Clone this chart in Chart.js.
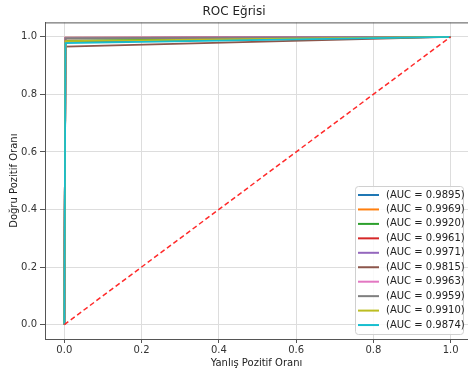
<!DOCTYPE html>
<html lang="tr">
<head>
    <meta charset="UTF-8">
    <title>ROC Eğrisi</title>
    <style>
        body { margin: 0; background: #fff; }
        canvas { display: block; }
    </style>
    <script src="https://cdn.jsdelivr.net/npm/chart.js"></script>
</head>
<body>
    <canvas id="rocChart" width="468" height="374"></canvas>
    <script>
        // her sınıf için ROC noktaları (0,0) -> (fpr, tpr) -> (1,1)
        const aucValues = [0.9895, 0.9969, 0.9920, 0.9961, 0.9971, 0.9815, 0.9963, 0.9959, 0.9910, 0.9874];
        const fprValues = [0.003, 0.003, 0.003, 0.003, 0.003, 0.003, 0.003, 0.003, 0.003, 0.003];
        const tprValues = [0.982, 0.997, 0.987, 0.995, 0.997, 0.966, 0.996, 0.995, 0.985, 0.978];
        const colors = ['#1f77b4', '#ff7f0e', '#2ca02c', '#d62728', '#9467bd',
                        '#8c564b', '#e377c2', '#7f7f7f', '#bcbd22', '#17becf'];
        const diagonalX = [0, 1];
        const diagonalY = [0, 1];
        const xTicks = [0.0, 0.2, 0.4, 0.6, 0.8, 1.0];
        const yTicks = [0.0, 0.2, 0.4, 0.6, 0.8, 1.0];

        // sonraki sınıflar üstte çizilsin (matplotlib sırası)
        const datasets = aucValues.map((auc, i) => ({
            label: '(AUC = ' + auc.toFixed(4) + ')',
            data: [{x: 0, y: 0}, {x: fprValues[i], y: tprValues[i]}, {x: 1, y: 1}],
            borderColor: colors[i],
            backgroundColor: colors[i],
            borderWidth: 1.8,
            showLine: true,
            pointRadius: 0,
            tension: 0,
            order: aucValues.length - i
        }));
        datasets.push({
            label: '',
            data: diagonalX.map((x, i) => ({x: x, y: diagonalY[i]})),
            borderColor: '#ff2a2a',
            borderWidth: 1.5,
            borderDash: [5, 3],
            showLine: true,
            pointRadius: 0,
            order: 0,
            legendHidden: true
        });

        // üst çerçeve çizgisi + grafik içindeki lejant
        const extras = {
            id: 'extras',
            afterDraw(chart) {
                const ctx = chart.ctx;
                const area = chart.chartArea;
                ctx.save();
                ctx.strokeStyle = '#555';
                ctx.lineWidth = 1;
                ctx.beginPath();
                ctx.moveTo(area.left, area.top + 0.5);
                ctx.lineTo(area.right, area.top + 0.5);
                ctx.stroke();

                const items = chart.data.datasets.filter(d => !d.legendHidden);
                const bx = 355, by = 186, bw = 108, bh = 148;
                ctx.fillStyle = 'rgba(255,255,255,0.85)';
                ctx.strokeStyle = '#d0d0d0';
                ctx.beginPath();
                ctx.roundRect(bx + 0.5, by + 0.5, bw, bh, 3);
                ctx.fill();
                ctx.stroke();

                ctx.font = '10px "DejaVu Sans"';
                ctx.textBaseline = 'middle';
                ctx.textAlign = 'left';
                items.forEach((d, i) => {
                    const y = 195 + i * 14.45;
                    ctx.strokeStyle = d.borderColor;
                    ctx.lineWidth = 2;
                    ctx.beginPath();
                    ctx.moveTo(358, y);
                    ctx.lineTo(379, y);
                    ctx.stroke();
                    ctx.fillStyle = '#222';
                    ctx.fillText(d.label, 386, y);
                });
                ctx.restore();
            }
        };

        Chart.defaults.font.family = '"DejaVu Sans", sans-serif';
        Chart.defaults.color = '#333';

        new Chart(document.getElementById('rocChart'), {
            type: 'scatter',
            data: { datasets: datasets },
            options: {
                responsive: false,
                animation: false,
                devicePixelRatio: 1,
                layout: { padding: 0 },
                plugins: {
                    legend: { display: false },
                    tooltip: { enabled: false },
                    title: {
                        display: true,
                        text: 'ROC Eğrisi',
                        color: '#222',
                        font: { size: 12, weight: 'normal' },
                        padding: { top: 5, bottom: 3 }
                    }
                },
                scales: {
                    x: {
                        type: 'linear',
                        min: -0.05,
                        max: 1.045,
                        afterFit(scale) { scale.height = 35; },
                        afterBuildTicks(scale) { scale.ticks = xTicks.map(v => ({value: v})); },
                        ticks: {
                            padding: 1,
                            font: { size: 10 },
                            callback: v => v.toFixed(1)
                        },
                        grid: { color: '#dddddd', tickColor: '#555', tickLength: 4 },
                        border: { color: '#555', width: 1 },
                        title: {
                            display: true,
                            text: 'Yanlış Pozitif Oranı',
                            color: '#222',
                            font: { size: 10 },
                            padding: { top: 0, bottom: 5 }
                        }
                    },
                    y: {
                        type: 'linear',
                        min: -0.05,
                        max: 1.05,
                        afterFit(scale) { scale.width = 45; },
                        afterBuildTicks(scale) { scale.ticks = yTicks.map(v => ({value: v})); },
                        ticks: {
                            padding: 3,
                            font: { size: 10 },
                            callback: v => v.toFixed(1)
                        },
                        grid: { color: '#dddddd', tickColor: '#555', tickLength: 5 },
                        border: { color: '#555', width: 1 },
                        title: {
                            display: true,
                            text: 'Doğru Pozitif Oranı',
                            color: '#222',
                            font: { size: 10 },
                            padding: { top: 8, bottom: 0 }
                        }
                    }
                }
            },
            plugins: [extras]
        });
    </script>
</body>
</html>
